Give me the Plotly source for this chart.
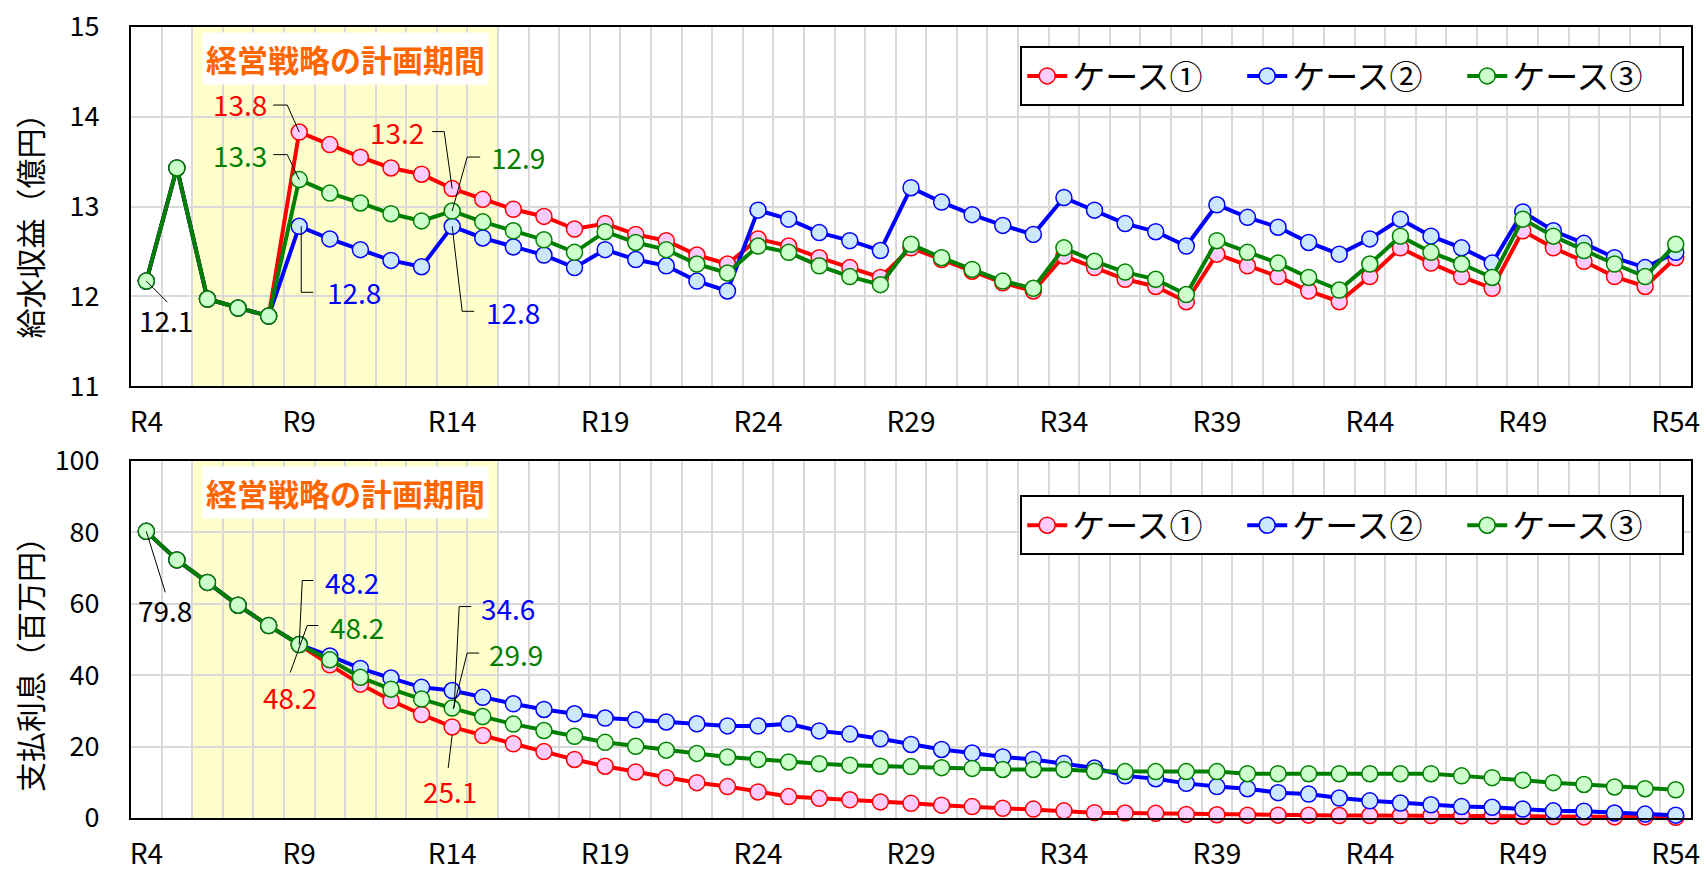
import plotly.graph_objects as go

# ---------------- data ----------------
categories = ["R4", "R5", "R6", "R7", "R8", "R9", "R10", "R11", "R12", "R13",
              "R14", "R15", "R16", "R17", "R18", "R19", "R20", "R21", "R22", "R23",
              "R24", "R25", "R26", "R27", "R28", "R29", "R30", "R31", "R32", "R33",
              "R34", "R35", "R36", "R37", "R38", "R39", "R40", "R41", "R42", "R43",
              "R44", "R45", "R46", "R47", "R48", "R49", "R50", "R51", "R52", "R53",
              "R54"]
tick_labels = ["R4", "R9", "R14", "R19", "R24", "R29", "R34", "R39", "R44", "R49", "R54"]
series_names = ["ケース①", "ケース②", "ケース③"]

# 給水収益 (億円)
revenue_case1 = [12.17, 13.43, 11.97, 11.87, 11.78, 13.83, 13.69, 13.55, 13.43, 13.36,
                 13.20, 13.08, 12.97, 12.89, 12.75, 12.81, 12.69, 12.62, 12.46, 12.36,
                 12.64, 12.56, 12.43, 12.32, 12.21, 12.54, 12.41, 12.28, 12.15, 12.06,
                 12.45, 12.32, 12.19, 12.11, 11.94, 12.47, 12.34, 12.22, 12.06, 11.94,
                 12.22, 12.54, 12.37, 12.22, 12.09, 12.73, 12.54, 12.39, 12.22, 12.11,
                 12.43]
revenue_case2 = [12.17, 13.43, 11.97, 11.87, 11.78, 12.78, 12.64, 12.52, 12.40, 12.33,
                 12.78, 12.65, 12.55, 12.46, 12.32, 12.52, 12.41, 12.34, 12.17, 12.06,
                 12.96, 12.86, 12.71, 12.62, 12.51, 13.21, 13.05, 12.91, 12.79, 12.69,
                 13.10, 12.96, 12.81, 12.72, 12.56, 13.02, 12.88, 12.77, 12.60, 12.47,
                 12.64, 12.86, 12.67, 12.54, 12.37, 12.94, 12.73, 12.59, 12.43, 12.32,
                 12.49]
revenue_case3 = [12.17, 13.43, 11.97, 11.87, 11.78, 13.30, 13.15, 13.04, 12.92, 12.84,
                 12.95, 12.83, 12.73, 12.63, 12.49, 12.72, 12.60, 12.52, 12.36, 12.26,
                 12.56, 12.49, 12.34, 12.22, 12.13, 12.58, 12.43, 12.30, 12.17, 12.09,
                 12.54, 12.39, 12.27, 12.19, 12.02, 12.62, 12.49, 12.37, 12.21, 12.07,
                 12.36, 12.67, 12.49, 12.36, 12.21, 12.86, 12.67, 12.51, 12.36, 12.22,
                 12.58]

# 支払利息 (百万円)
interest_case1 = [80.3, 72.3, 66.0, 59.6, 53.9, 48.6, 42.9, 37.5, 32.9, 29.0,
                  25.5, 23.1, 20.8, 18.6, 16.4, 14.5, 12.9, 11.3, 9.9, 8.8,
                  7.3, 6.0, 5.5, 5.1, 4.5, 4.1, 3.6, 3.2, 2.7, 2.5,
                  2.0, 1.5, 1.4, 1.3, 1.0, 0.9, 0.8, 0.8, 0.8, 0.7,
                  0.7, 0.7, 0.7, 0.6, 0.6, 0.5, 0.4, 0.3, 0.3, 0.3,
                  0.2]
interest_case2 = [80.3, 72.3, 66.0, 59.6, 53.9, 48.6, 45.4, 41.9, 39.2, 36.6,
                  35.7, 33.8, 32.0, 30.4, 29.2, 28.0, 27.5, 26.9, 26.4, 25.8,
                  25.8, 26.4, 24.4, 23.5, 22.2, 20.6, 19.2, 18.2, 17.1, 16.4,
                  15.3, 14.0, 11.8, 11.0, 9.7, 8.8, 8.2, 7.1, 6.7, 5.6,
                  4.8, 4.2, 3.7, 3.2, 3.0, 2.5, 2.0, 1.9, 1.4, 1.1,
                  0.8]
interest_case3 = [80.3, 72.3, 66.0, 59.6, 53.9, 48.6, 44.3, 39.4, 36.1, 33.3,
                  30.8, 28.4, 26.3, 24.5, 22.9, 21.2, 20.1, 19.0, 18.1, 17.1,
                  16.4, 15.7, 15.2, 14.8, 14.5, 14.4, 14.1, 13.9, 13.6, 13.6,
                  13.6, 13.1, 13.0, 13.0, 13.0, 13.0, 12.4, 12.4, 12.4, 12.4,
                  12.4, 12.4, 12.4, 11.8, 11.3, 10.6, 9.9, 9.4, 8.7, 8.2,
                  7.9]

plan_start, plan_end = "R6", "R15"
plan_label = "経営戦略の計画期間"
title_top = "給水収益（億円）"
title_bottom = "支払利息（百万円）"

# ---------------- style ----------------
FONT = "Noto Sans CJK JP"
line_colors = ["#FF0000", "#0000FF", "#008000"]
fill_colors = ["#FFCCFF", "#CCE8FF", "#CCFFCC"]
GRID = "#D9D9D9"

x_idx = list(range(len(categories)))
fig = go.Figure()

rows = [
    ("x", "y", "legend", [revenue_case1, revenue_case2, revenue_case3]),
    ("x2", "y2", "legend2", [interest_case1, interest_case2, interest_case3]),
]
for xr, yr, lg, series in rows:
    for name, vals, lc, fc in zip(series_names, series, line_colors, fill_colors):
        fig.add_trace(go.Scatter(
            x=x_idx, y=vals, name=name, mode="lines+markers",
            xaxis=xr, yaxis=yr, legend=lg, cliponaxis=False,
            line=dict(color=lc, width=4),
            marker=dict(size=16, color=fc, line=dict(color=lc, width=1.5)),
            hoverinfo="skip",
        ))

tick_idx = [categories.index(t) for t in tick_labels]
xaxis_common = dict(
    range=[-0.5, len(categories) - 0.5], tickvals=tick_idx, ticktext=tick_labels,
    showgrid=False, zeroline=False, showline=True, mirror=True, automargin=False,
    linecolor="black", linewidth=2, ticks="", ticklabelstandoff=10,
    tickfont=dict(family=FONT, size=28, color="black"),
    minor=dict(tickvals=[i - 0.5 for i in range(len(categories) + 1)],
               showgrid=True, gridcolor=GRID, gridwidth=1.5, ticks=""),
)
yaxis_common = dict(
    showgrid=True, gridcolor=GRID, gridwidth=1.5, zeroline=False, automargin=False,
    showline=True, mirror=True, linecolor="black", linewidth=2, ticks="",
    ticklabelstandoff=24, tickfont=dict(family=FONT, size=27, color="black"),
)

top_dom = [0.546, 1.0]
bot_dom = [0.0, 0.4513]
legend_common = dict(xanchor="left", yanchor="top", orientation="h",
                     bgcolor="white", bordercolor="black", borderwidth=2,
                     entrywidth=165, itemwidth=40,
                     font=dict(family=FONT, size=33, color="black"))
fig.update_layout(
    width=1706, height=872,
    margin=dict(l=131, r=15, t=27, b=54, autoexpand=False),
    paper_bgcolor="white", plot_bgcolor="white",
    font=dict(family=FONT, color="black"),
    xaxis=dict(anchor="y", domain=[0, 1], **xaxis_common),
    yaxis=dict(anchor="x", domain=top_dom, range=[11, 15], dtick=1, **yaxis_common),
    xaxis2=dict(anchor="y2", domain=[0, 1], **xaxis_common),
    yaxis2=dict(anchor="x2", domain=bot_dom, range=[0, 100], dtick=20, **yaxis_common),
    legend=dict(x=0.570, y=0.976, **legend_common),
    legend2=dict(x=0.570, y=0.408, **legend_common),
    showlegend=True,
)

# planning period band + label
x0 = categories.index(plan_start) - 0.5
x1 = categories.index(plan_end) + 0.5
for xr, yr in [("x", "y"), ("x2", "y2")]:
    fig.add_shape(type="rect", xref=xr, yref=yr + " domain", x0=x0, x1=x1, y0=0, y1=1,
                  fillcolor="#FFFFCC", line=dict(width=0), layer="below")
    fig.add_annotation(xref=xr, yref=yr + " domain", x=(x0 + x1) / 2, y=0.912,
                       xanchor="center", yanchor="middle",
                       text="<b>" + plan_label + "</b>", showarrow=False,
                       bgcolor="white", borderpad=3,
                       font=dict(family=FONT, size=31, color="#FF6600"))

# y-axis titles
fig.add_annotation(xref="paper", yref="paper", x=-0.0654, y=(top_dom[0] + top_dom[1]) / 2 - 0.015,
                   xanchor="center", yanchor="middle",
                   text=title_top, textangle=-90, showarrow=False,
                   font=dict(family=FONT, size=30, color="black"))
fig.add_annotation(xref="paper", yref="paper", x=-0.0654, y=(bot_dom[0] + bot_dom[1]) / 2 - 0.022,
                   xanchor="center", yanchor="middle",
                   text=title_bottom, textangle=-90, showarrow=False,
                   font=dict(family=FONT, size=30, color="black"))


# callouts: (axes, values, category, text, color, text offset px, leader path px)
def callout(xr, yr, vals, cat, text, color, dx, dy, pts):
    i = categories.index(cat)
    v = vals[i]
    fig.add_annotation(xref=xr, yref=yr, x=i, y=v, text=text, showarrow=False,
                       xanchor="center", yanchor="middle",
                       xshift=dx, yshift=dy,
                       font=dict(family=FONT, size=28, color=color))
    path = "M" + " L".join(f"{px},{py}" for px, py in pts)
    fig.add_shape(type="path", xref=xr, yref=yr, xsizemode="pixel", ysizemode="pixel",
                  xanchor=i, yanchor=v, path=path, line=dict(color="black", width=1))


callout("x", "y", revenue_case3, "R4", "12.1", "black", 20, -39, [(0, 0), (21, -21)])
callout("x", "y", revenue_case1, "R9", "13.8", line_colors[0], -59, 28, [(0, 0), (-12, 27), (-26, 27)])
callout("x", "y", revenue_case3, "R9", "13.3", line_colors[2], -59, 25, [(0, 0), (-12, 25), (-26, 25)])
callout("x", "y", revenue_case2, "R9", "12.8", line_colors[1], 55, -66, [(2, 0), (2, -66), (14, -66)])
callout("x", "y", revenue_case1, "R14", "13.2", line_colors[0], -55, 57, [(0, 0), (-8, 57), (-20, 57)])
callout("x", "y", revenue_case3, "R14", "12.9", line_colors[2], 66, 54, [(0, 0), (15, 54), (28, 54)])
callout("x", "y", revenue_case2, "R14", "12.8", line_colors[1], 61, -86, [(0, 0), (10, -85), (22, -85)])

callout("x2", "y2", interest_case3, "R4", "79.8", "black", 19, -79, [(0, 0), (19, -61)])
callout("x2", "y2", interest_case2, "R9", "48.2", line_colors[1], 53, 63, [(0, 0), (3, 64), (14, 64)])
callout("x2", "y2", interest_case3, "R9", "48.2", line_colors[2], 58, 18, [(-9, -28), (8, 19), (19, 19)])
callout("x2", "y2", interest_case1, "R9", "48.2", line_colors[0], -9, -52, [(0, 0), (0, 0)])
callout("x2", "y2", interest_case2, "R14", "34.6", line_colors[1], 56, 83, [(19, 84), (7, 84), (2, -17)])
callout("x2", "y2", interest_case3, "R14", "29.9", line_colors[2], 64, 54, [(27, 55), (15, 55), (1, -1)])
callout("x2", "y2", interest_case1, "R14", "25.1", line_colors[0], -2, -64, [(-4, -41), (0, -8)])

fig.write_html("out.html", config={"displayModeBar": False},
               post_script="document.body.style.margin='0';document.body.style.overflow='hidden';")
